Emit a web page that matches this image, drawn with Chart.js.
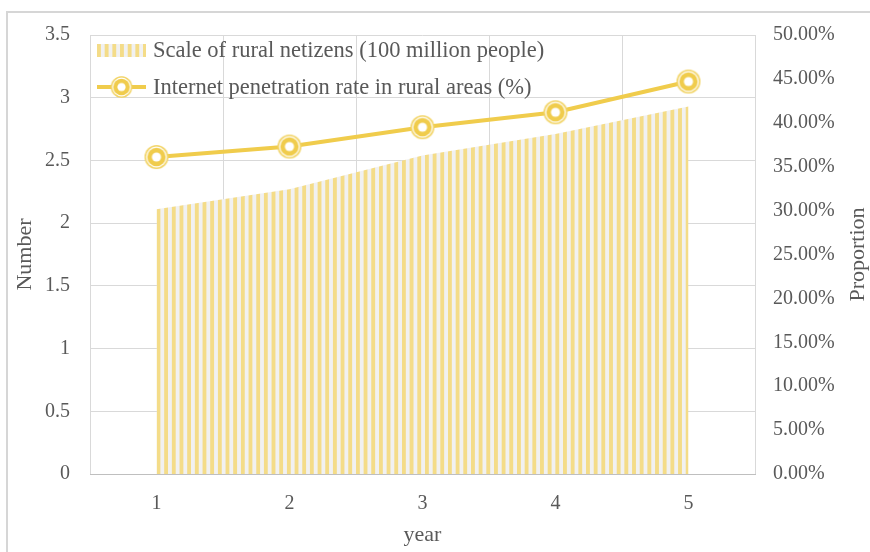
<!DOCTYPE html>
<html>
<head>
<meta charset="utf-8">
<script src="https://cdn.jsdelivr.net/npm/chart.js@4.4.1/dist/chart.umd.min.js"></script>
<style>
  html, body { margin: 0; padding: 0; background: #ffffff; }
  #c { display: block; }
</style>
</head>
<body>
<canvas id="c" width="870" height="552"></canvas>
<script>
// ---- data ----
const years = ['1', '2', '3', '4', '5'];
const ruralNetizens = [2.11, 2.27, 2.54, 2.71, 2.93];          // 100 million people
const penetrationRate = [36.1, 37.3, 39.5, 41.2, 44.7];        // percent
const leftTickStep = 0.5;
const rightTickStep = 5;

const seriesLabels = [
  'Scale of rural netizens (100 million people)',
  'Internet penetration rate in rural areas (%)'
];

// ---- style ----
const FONT = "'Liberation Serif', 'Times New Roman', serif";
const TEXT = '#595959';
const GRID = '#d9d9d9';
const LINE_GOLD = '#F0CC4C';
const STRIPE_GOLD = '#F4DC88';
const STRIPE_BG = '#F1F1F1';
const STRIPE_PERIOD = 7.67;

Chart.defaults.font.family = FONT;
Chart.defaults.font.size = 20;
Chart.defaults.color = TEXT;

// vertical stripe fill for the area series
function makeStripeTile() {
  const t = document.createElement('canvas');
  t.width = 8; t.height = 8;
  const g = t.getContext('2d');
  g.fillStyle = STRIPE_BG; g.fillRect(0, 0, 8, 8);
  g.fillStyle = STRIPE_GOLD; g.fillRect(0, 0, 4, 8);
  return t;
}
const ctx = document.getElementById('c').getContext('2d');
const stripePattern = ctx.createPattern(makeStripeTile(), 'repeat');

// double-ring circle marker
function makeMarker() {
  const s = 28, m = s / 2;
  const c = document.createElement('canvas');
  c.width = s; c.height = s;
  const g = c.getContext('2d');
  const disc = (r, col) => { g.beginPath(); g.arc(m, m, r, 0, Math.PI * 2); g.fillStyle = col; g.fill(); };
  disc(12, '#F2D467');
  disc(10.4, '#ffffff');
  disc(9.2, LINE_GOLD);
  disc(4.6, '#ffffff');
  return c;
}
const marker = makeMarker();

// outer frame of the chart area
const framePlugin = {
  id: 'frame',
  beforeDraw(chart) {
    const g = chart.ctx;
    g.save();
    g.fillStyle = '#ffffff';
    g.fillRect(0, 0, chart.width, chart.height);
    g.strokeStyle = '#d6d6d6';
    g.lineWidth = 2;
    g.strokeRect(7, 12, chart.width + 20, chart.height + 20);
    g.restore();
  }
};

// keep the stripes anchored to the first category
const stripeAnchor = {
  id: 'stripeAnchor',
  beforeDatasetsDraw(chart) {
    const x0 = chart.scales.x.getPixelForValue(0);
    stripePattern.setTransform(new DOMMatrix().translate(x0, 0).scale(STRIPE_PERIOD / 8, 1));
  }
};

// legend inside the plot, plus the right-hand axis title
const insideLegend = {
  id: 'insideLegend',
  afterDraw(chart) {
    const g = chart.ctx;
    const ca = chart.chartArea;
    const lx = ca.left + 7;
    g.save();
    g.font = '22.5px ' + FONT;
    g.fillStyle = TEXT;
    g.textBaseline = 'middle';
    g.textAlign = 'left';

    // area swatch
    stripePattern.setTransform(new DOMMatrix().translate(lx, 0).scale(STRIPE_PERIOD / 8, 1));
    g.fillStyle = stripePattern;
    g.fillRect(lx, ca.top + 9, 49, 13);
    g.fillStyle = TEXT;
    g.fillText(chart.data.datasets[0].label, lx + 56, ca.top + 16);

    // line swatch
    const ly = ca.top + 52;
    g.strokeStyle = LINE_GOLD;
    g.lineWidth = 4;
    g.beginPath(); g.moveTo(lx, ly); g.lineTo(lx + 49, ly); g.stroke();
    const ms = marker.width * 0.9;
    g.drawImage(marker, lx + 24.5 - ms / 2, ly - ms / 2, ms, ms);
    g.fillText(chart.data.datasets[1].label, lx + 56, ly + 1);

    // right axis title, reading bottom to top
    g.font = '22px ' + FONT;
    g.translate(chart.width - 12, (ca.top + ca.bottom) / 2);
    g.rotate(-Math.PI / 2);
    g.textAlign = 'center';
    g.fillText('Proportion', 0, 0);
    g.restore();
  }
};

new Chart(ctx, {
  type: 'line',
  data: {
    labels: years,
    datasets: [
      {
        label: seriesLabels[0],
        data: ruralNetizens,
        yAxisID: 'y',
        fill: 'origin',
        backgroundColor: stripePattern,
        borderColor: 'rgba(0,0,0,0)',
        borderWidth: 0,
        pointRadius: 0,
        tension: 0,
        order: 2
      },
      {
        label: seriesLabels[1],
        data: penetrationRate,
        yAxisID: 'y1',
        fill: false,
        borderColor: LINE_GOLD,
        borderWidth: 4,
        pointStyle: marker,
        pointRadius: 12,
        tension: 0,
        order: 1
      }
    ]
  },
  options: {
    responsive: false,
    devicePixelRatio: 1,
    animation: false,
    layout: { padding: { top: 35, left: 0, right: 0, bottom: 0 } },
    plugins: {
      legend: { display: false },
      tooltip: { enabled: false }
    },
    scales: {
      x: {
        type: 'category',
        offset: true,
        grid: { offset: true, color: GRID, drawTicks: false },
        border: { color: '#bfbfbf', width: 1 },
        ticks: { padding: 18, color: TEXT },
        title: { display: true, text: 'year', color: TEXT, font: { size: 22 }, padding: { top: 0, bottom: 4 } },
        afterFit(s) { s.height = 78; }
      },
      y: {
        position: 'left',
        min: 0,
        max: 3.5,
        ticks: { stepSize: leftTickStep, padding: 20, color: TEXT, callback: v => String(Number(v)) },
        grid: { color: GRID, drawTicks: false },
        border: { display: false },
        title: { display: true, text: 'Number', color: TEXT, font: { size: 22 }, padding: { top: 12, bottom: 0 } },
        afterFit(s) { s.width = 90; }
      },
      y1: {
        position: 'right',
        min: 0,
        max: 50,
        ticks: {
          stepSize: rightTickStep,
          padding: 18,
          color: TEXT,
          callback: v => Number(v).toFixed(2) + '%'
        },
        grid: { display: false, drawTicks: false },
        border: { display: false },
        afterFit(s) { s.width = 115; }
      }
    }
  },
  plugins: [framePlugin, stripeAnchor, insideLegend]
});
</script>
</body>
</html>
